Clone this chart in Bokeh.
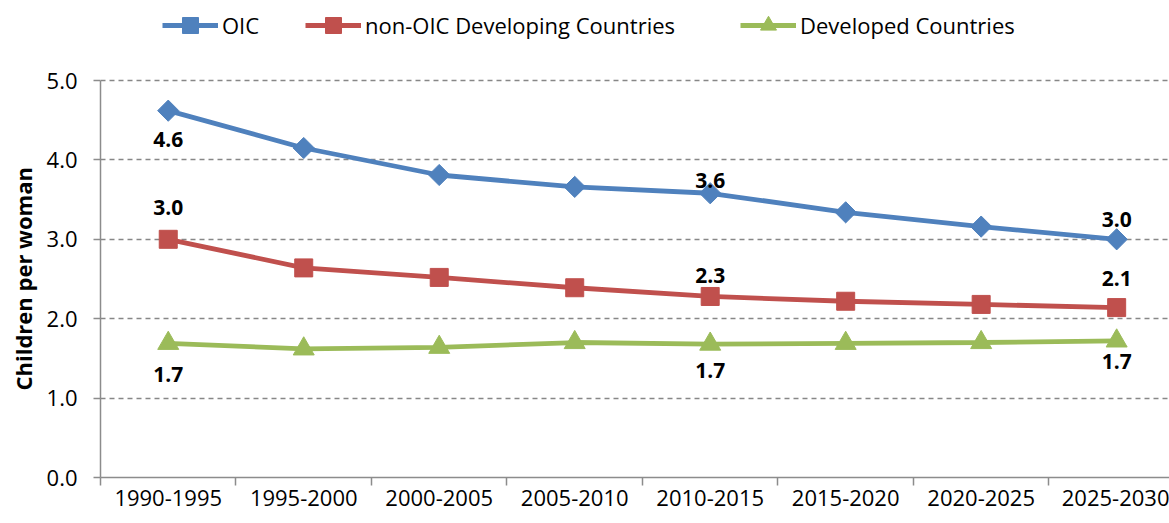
from bokeh.plotting import figure
from bokeh.models import Range1d, FixedTicker, PrintfTickFormatter, Legend, LegendItem, Title
from bokeh.core.properties import value
from bokeh.embed import file_html
from bokeh.resources import INLINE

periods = ["1990-1995", "1995-2000", "2000-2005", "2005-2010",
           "2010-2015", "2015-2020", "2020-2025", "2025-2030"]
oic = [4.62, 4.15, 3.81, 3.66, 3.58, 3.34, 3.16, 3.00]
non_oic = [3.00, 2.64, 2.52, 2.39, 2.28, 2.22, 2.18, 2.14]
developed = [1.69, 1.62, 1.64, 1.70, 1.68, 1.69, 1.70, 1.72]
series_names = ["OIC", "non-OIC Developing Countries", "Developed Countries"]
labelled_idx = [0, 4, 7]
y_ticks = [0, 1, 2, 3, 4, 5]
y_title = "Children per woman"

FONT = "Open Sans"
colors = ["#4F81BD", "#C0504D", "#9BBB59"]
markers = ["square", "square", "triangle"]
marker_sizes = [15, 18, 21]
marker_angles = [0.7854, 0, 0]
label_offsets = [[29, -13, -20], [-32, -21, -29], [31, 26, 21]]
legend_x = [62, 205, 640]

xs = list(range(len(periods)))

p = figure(width=1169, height=523, output_backend="svg", toolbar_location=None,
           x_range=Range1d(-0.5, 7.39), y_range=Range1d(0, 5.907),
           min_border_left=100, min_border_right=0, min_border_top=8,
           min_border_bottom=46)
p.outline_line_color = None
p.background_fill_color = "white"
p.border_fill_color = "white"

# grid
p.xgrid.grid_line_color = None
p.ygrid.ticker = FixedTicker(ticks=y_ticks[1:])
p.ygrid.grid_line_color = "#878787"
p.ygrid.grid_line_width = 1.5
p.ygrid.grid_line_dash = "5 4"

# y axis
p.yaxis.ticker = FixedTicker(ticks=y_ticks)
p.yaxis.bounds = (y_ticks[0], y_ticks[-1])
p.yaxis.formatter = PrintfTickFormatter(format="%.1f")
p.yaxis.axis_line_color = "#8C8C8C"
p.yaxis.axis_line_width = 1.5
p.yaxis.major_tick_line_color = "#8C8C8C"
p.yaxis.major_tick_line_width = 1.5
p.yaxis.major_tick_out = 7
p.yaxis.major_tick_in = 0
p.yaxis.minor_tick_line_color = None
p.yaxis.major_label_standoff = 16
p.yaxis.major_label_text_font = FONT
p.yaxis.major_label_text_font_size = "22px"
p.yaxis.major_label_text_color = "#000000"

# y axis title, anchored at the bottom of the value range
ytitle = Title(text=y_title, align="left", vertical_align="top", offset=87,
               standoff=8, text_font=FONT, text_font_size="22px",
               text_font_style="bold", text_color="#000000")
p.add_layout(ytitle, "left")

# x axis
p.xaxis.ticker = FixedTicker(ticks=xs, minor_ticks=[i - 0.5 for i in xs])
p.xaxis.major_label_overrides = {i: s for i, s in zip(xs, periods)}
p.xaxis.axis_line_color = "#8C8C8C"
p.xaxis.axis_line_width = 1.5
p.xaxis.major_tick_line_color = None
p.xaxis.minor_tick_line_color = "#8C8C8C"
p.xaxis.minor_tick_line_width = 1.5
p.xaxis.minor_tick_out = 8
p.xaxis.minor_tick_in = 0
p.xaxis.major_label_standoff = 4
p.xaxis.major_label_text_font = FONT
p.xaxis.major_label_text_font_size = "22px"
p.xaxis.major_label_text_color = "#000000"

all_series = [oic, non_oic, developed]
for k, ys in enumerate(all_series):
    lr = p.line(xs, ys, line_color=colors[k], line_width=4.8)
    mr = p.scatter(xs, ys, marker=markers[k], size=marker_sizes[k],
                   angle=marker_angles[k], fill_color=colors[k],
                   line_color=colors[k])
    lx = [xs[i] for i in labelled_idx]
    ly = [ys[i] for i in labelled_idx]
    p.text(lx, ly, text=[f"{v:.1f}" for v in ly], y_offset=label_offsets[k],
           text_align="center", text_baseline="middle",
           text_font=value(FONT), text_font_style="bold",
           text_font_size="21px", text_color="#000000")
    leg = Legend(items=[LegendItem(label=series_names[k], renderers=[lr, mr])],
                 location=(legend_x[k], 432), orientation="horizontal",
                 border_line_color=None, background_fill_alpha=0,
                 padding=0, margin=0, spacing=0,
                 glyph_width=56, glyph_height=40, label_height=40,
                 label_standoff=4, label_text_font=FONT,
                 label_text_font_size="22px", label_text_color="#000000")
    p.add_layout(leg, "center")

open("out.html", "w").write(file_html(p, INLINE))
